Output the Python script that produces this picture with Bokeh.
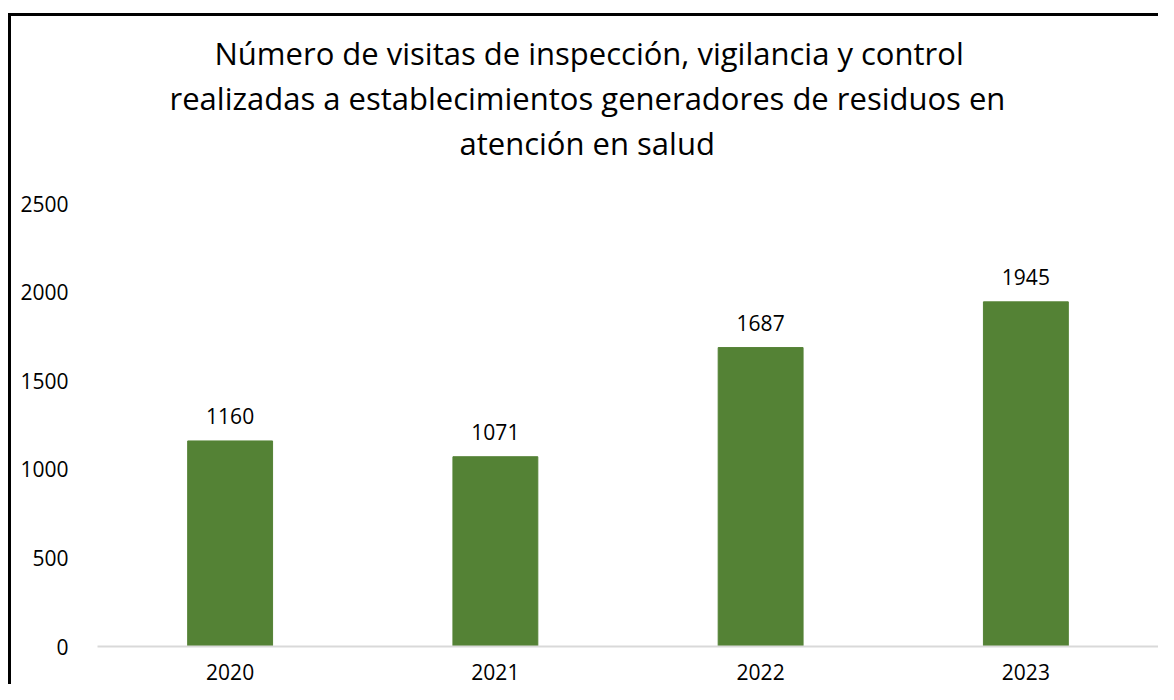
from bokeh.plotting import figure
from bokeh.models import ColumnDataSource, LabelSet, Title, FixedTicker
from bokeh.core.properties import value
from bokeh.embed import file_html
from bokeh.resources import INLINE

years = ["2020", "2021", "2022", "2023"]
visits = [1160, 1071, 1687, 1945]
y_ticks = [0, 500, 1000, 1500, 2000, 2500]
title_lines = [
    "Número de visitas de inspección, vigilancia y control",
    "realizadas a establecimientos generadores de residuos en",
    "atención en salud",
]
# horizontal offsets (px from plot-area left) that centre each title line on the chart
title_offsets = [117, 72, 362]

FONT = "Open Sans"
src = ColumnDataSource(dict(year=years, visits=visits, label=[str(v) for v in visits]))

p = figure(x_range=years, y_range=(0, 2500), width=1158, height=684,
           output_backend="svg", toolbar_location=None,
           min_border_left=97, min_border_right=0, min_border_bottom=38,
           min_border_top=203)
p.border_fill_color = None
# chart-area border: only its left and top edges fall inside the picture
p.styles = {"box-shadow": "inset 8px 13px 0 0 #ffffff, inset 11px 16px 0 0 #000000",
            "background-color": "#ffffff"}

# spacer between plot area and title block
p.add_layout(Title(text=" ", text_font_size="1px", standoff=36), "above")
for line, off in zip(reversed(title_lines), reversed(title_offsets)):
    p.add_layout(Title(text=line, align="left", offset=off, text_font=FONT,
                       text_font_size="31px", text_font_style="normal",
                       text_color="#000000", standoff=1), "above")

p.vbar(x="year", top="visits", width=0.32, source=src,
       fill_color="#548235", line_color="#548235")

labels = LabelSet(x="year", y="visits", text="label", source=src,
                  text_align="center", text_baseline="alphabetic", y_offset=17,
                  text_font=value(FONT), text_font_size=value("21px"),
                  text_color="#000000")
p.add_layout(labels)

p.xgrid.visible = False
p.ygrid.visible = False
p.outline_line_color = None

p.yaxis.ticker = FixedTicker(ticks=y_ticks)
p.yaxis.axis_line_color = None
p.yaxis.major_tick_line_color = None
p.yaxis.minor_tick_line_color = None
p.yaxis.major_label_standoff = 23
p.yaxis.major_label_text_font = FONT
p.yaxis.major_label_text_font_size = "21px"
p.yaxis.major_label_text_color = "#000000"

p.xaxis.axis_line_color = "#d9d9d9"
p.xaxis.axis_line_width = 2
p.xaxis.major_tick_line_color = None
p.xaxis.minor_tick_line_color = None
p.xaxis.major_label_standoff = 11
p.xaxis.major_label_text_font = FONT
p.xaxis.major_label_text_font_size = "21px"
p.xaxis.major_label_text_color = "#000000"

open("out.html", "w").write(file_html(p, INLINE))
